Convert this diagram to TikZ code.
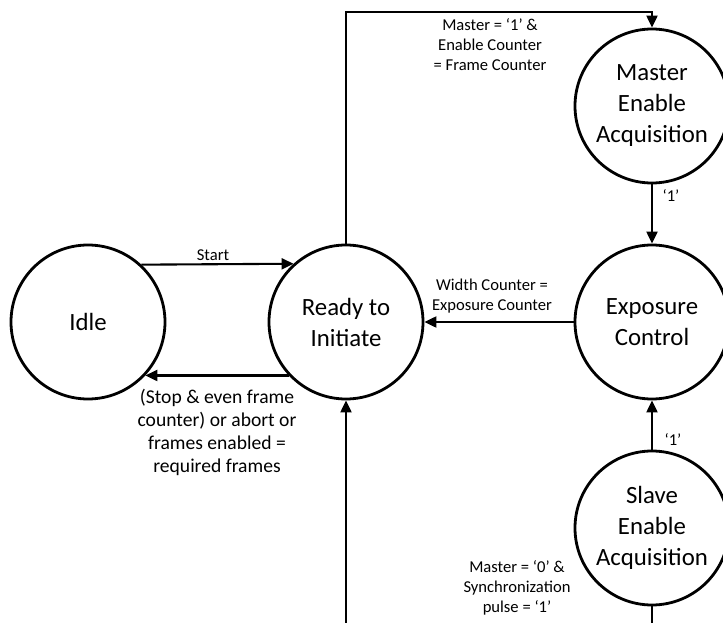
\documentclass[tikz,border=0pt]{standalone}
\usepackage{fontspec}
\setmainfont{Carlito}
\usetikzlibrary{arrows.meta}
\begin{document}
\begin{tikzpicture}[x=1pt,y=-1pt,
  state/.style={circle,draw,line width=2.8pt,minimum size=154pt,inner sep=0pt,
    align=center,font=\fontsize{24.8}{31}\selectfont},
  trans/.style={line width=2.1pt,-{Triangle[length=12pt,width=11pt]}},
  lbl/.style={align=center,font=\fontsize{16.6}{20}\selectfont,inner sep=0pt},
  biglbl/.style={align=center,font=\fontsize{19.6}{23}\selectfont,inner sep=0pt}]
\useasboundingbox (0,0) rectangle (723,623);
\clip (0,0) rectangle (723,623);

% states
\node[state] (idle)     at (88,322)  {Idle};
\node[state] (ready)    at (346,322) {Ready to\\Initiate};
\node[state] (master)   at (652,106) {Master\\Enable\\Acquisition};
\node[state] (exposure) at (652,322) {Exposure\\Control};
\node[state] (slave)    at (652,528) {Slave\\Enable\\Acquisition};

% routing corners
\coordinate (tr) at (652,12);
\coordinate (br) at (652,660);
\coordinate (bl) at (346,660);

% transitions
\draw[trans] (idle.47.7) -- (ready.132.3);
\node[lbl] (lstart) at (213,255) {Start};

\draw[trans] (ready.223.5) -- (idle.-43.5);
\node[biglbl] (lstop) at (217,432) {(Stop \& even frame\\counter) or abort or\\frames enabled =\\required frames};

\draw[trans] (ready.north) |- (tr) -- (master.north);
\node[lbl] (lmaster) at (490,45) {Master = ‘1’ \&\\Enable Counter\\= Frame Counter};

\draw[trans] (master.south) -- (exposure.north);
\node[lbl] (lone1) at (671,196) {‘1’};

\draw[trans] (exposure.west) -- (ready.east);
\node[lbl] (lwidth) at (492,296) {Width Counter =\\Exposure Counter};

\draw[trans] (slave.north) -- (exposure.south);
\node[lbl] (lone2) at (673,440) {‘1’};

\draw[trans] (slave.south) -- (br) -- (bl) -- (ready.south);
\node[lbl] (lslave) at (517,588) {Master = ‘0’ \&\\Synchronization\\pulse = ‘1’};
\end{tikzpicture}
\end{document}
